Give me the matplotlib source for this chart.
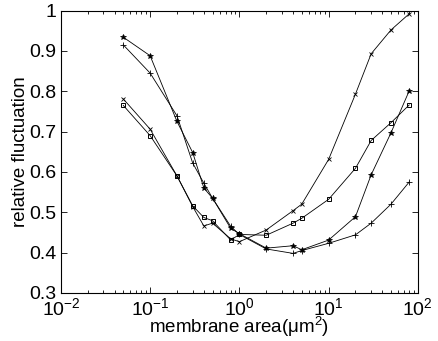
import matplotlib
matplotlib.use("Agg")
import matplotlib.pyplot as plt
from matplotlib.ticker import LogLocator

plt.rcParams['font.family'] = ['Liberation Sans', 'DejaVu Sans']
plt.rcParams['mathtext.fontset'] = 'custom'
plt.rcParams['mathtext.rm'] = 'Liberation Sans'
plt.rcParams['mathtext.it'] = 'Liberation Sans:italic'
plt.rcParams['mathtext.default'] = 'regular'

area = [0.05, 0.1, 0.2, 0.3, 0.4, 0.5, 0.8, 1, 2, 4, 5, 10, 20, 30, 50, 80]

series_x = [0.781, 0.706, 0.59, 0.514, 0.466, 0.473, 0.434, 0.427, 0.456, 0.504, 0.52,
            0.631, 0.793, 0.893, 0.952, 0.992]
series_sq = [0.765, 0.69, 0.59, 0.516, 0.487, 0.479, 0.431, 0.445, 0.443, 0.473, 0.485,
             0.532, 0.609, 0.678, 0.722, 0.766]
series_star = [0.934, 0.888, 0.725, 0.648, 0.56, 0.535, 0.46, 0.447, 0.411, 0.417, 0.407,
               0.431, 0.489, 0.593, 0.697, 0.801]
series_plus = [0.915, 0.845, 0.739, 0.622, 0.572, 0.535, 0.465, 0.445, 0.409, 0.398, 0.405,
               0.423, 0.444, 0.473, 0.52, 0.575]

yticks = [0.3, 0.4, 0.5, 0.6, 0.7, 0.8, 0.9, 1.0]
ytick_labels = ['0.3', '0.4', '0.5', '0.6', '0.7', '0.8', '0.9', '1']

fig = plt.figure(figsize=(4.38, 3.41), dpi=100)
ax = fig.add_axes([0.139, 0.141, 0.815, 0.828])

kw = dict(color='black', linewidth=0.6)
ax.plot(area, series_x, marker='x', markersize=3.5, markeredgewidth=0.6, **kw)
ax.plot(area, series_sq, marker='s', markersize=3.2, markerfacecolor='none',
        markeredgewidth=0.7, **kw)
ax.plot(area, series_star, marker='*', markersize=3.8, markeredgewidth=0.5, **kw)
ax.plot(area, series_plus, marker='+', markersize=4, markeredgewidth=0.6, **kw)

ax.set_xscale('log')
ax.set_xlim(1e-2, 1e2)
ax.set_ylim(0.3, 1.0)
ax.set_yticks(yticks)
ax.set_yticklabels(ytick_labels)
ax.xaxis.set_major_locator(LogLocator(base=10, numticks=10))
ax.xaxis.set_minor_locator(LogLocator(base=10, subs=range(2, 10), numticks=20))

ax.tick_params(which='both', direction='in', top=True, right=True, labelsize=14,
               width=0.6)
ax.tick_params(which='major', length=4, pad=3)
ax.tick_params(which='minor', length=2)
for s in ax.spines.values():
    s.set_linewidth(0.8)

ax.set_xlabel('membrane area(μm$^2$)', fontsize=13.5, labelpad=-3)
ax.set_ylabel('relative fluctuation', fontsize=13.5, labelpad=0)

fig.savefig('out.png', dpi=100)
